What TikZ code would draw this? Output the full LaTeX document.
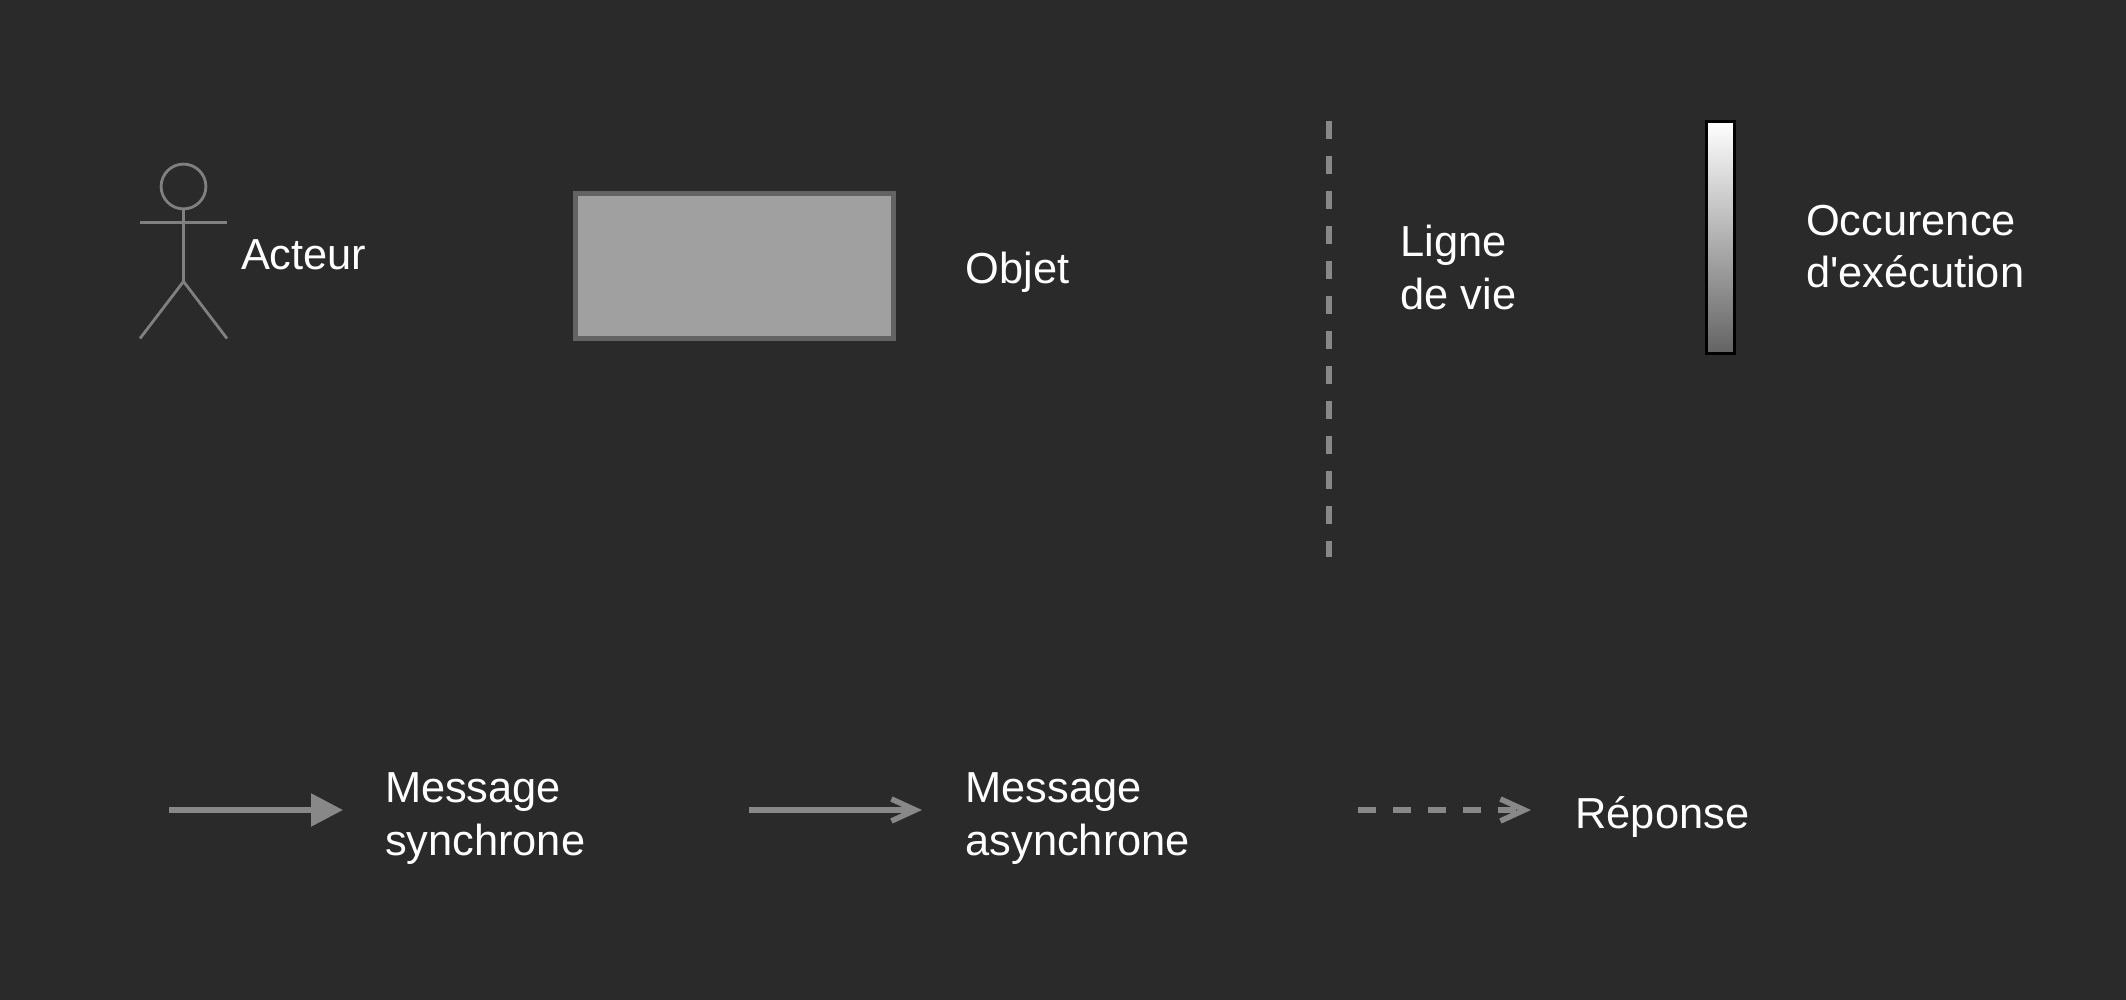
\documentclass[tikz,border=0pt]{standalone}
\usepackage{fontspec}
\newfontfamily\plainsans{Liberation Sans}
\usetikzlibrary{arrows.meta}
\definecolor{bgc}{HTML}{2A2A2A}
\definecolor{actc}{HTML}{808080}
\definecolor{msgc}{HTML}{888888}
\definecolor{objf}{HTML}{A0A0A0}
\definecolor{objs}{HTML}{636363}
\tikzset{
  x=.5pt,y=-.5pt,
  actorline/.style={draw=actc,line width=1.4pt},
  lbl/.style={text=white,inner sep=0pt,outer sep=0pt,anchor=base west,align=left,font=\plainsans\fontsize{21.7}{26.3}\selectfont},
  msg/.style={draw=msgc,line width=2.75pt},
  syncarrow/.style={msg,-{Triangle[length=16pt,width=16pt]}},
  openarrow/.style={msg,-{Straight Barb[length=12pt,width=11pt,line width=2.75pt]}},
  dashline/.style={dash pattern=on 9pt off 8.5pt},
}
\begin{document}
\begin{tikzpicture}
\fill[bgc] (0,0) rectangle (2126,1000);
\useasboundingbox (0,0) rectangle (2126,1000);
% actor
\node[circle,draw=actc,line width=1.4pt,minimum size=22.4pt,inner sep=0pt] (head) at (183.5,186.5) {};
\coordinate (hip) at (183.5,281.5);
\coordinate (shL) at (140,222.5);
\coordinate (shR) at (227,222.5);
\coordinate (ftL) at (140,338.5);
\coordinate (ftR) at (227,338.5);
\draw[actorline] (head.south) -- (hip);
\draw[actorline] (shL) -- (shR);
\draw[actorline] (ftL) -- (hip) -- (ftR);
\node[lbl] (tacteur) at (241,270) {Acteur};
% object
\node[draw=objs,fill=objf,line width=2.5pt,inner sep=0pt,minimum width=159pt,minimum height=72.5pt] (obj) at (734.5,266) {};
\node[lbl] (tobjet) at (965.5,284) {Objet};
% lifeline
\coordinate (llA) at (1329,121);
\coordinate (llB) at (1329,557);
\draw[msg,line width=3pt,dashline] (llA) -- (llB);
\node[lbl] (tligne) at (1400.5,309) {Ligne\\de vie};
% execution occurrence
\node[draw=black,line width=1.5pt,inner sep=0pt,minimum width=14.1pt,minimum height=116pt,top color=white,bottom color=objs] (bar) at (1720.4,237.5) {};
\node[lbl] (tocc) at (1806,288) {Occurence\\d'exécution};
% messages
\coordinate (s1) at (169,810);
\coordinate (s2) at (343,810);
\draw[syncarrow] (s1) -- (s2);
\node[lbl] (tsync) at (385,855) {Message\\synchrone};
\coordinate (a1) at (749,810);
\coordinate (a2) at (922,810);
\draw[openarrow] (a1) -- (a2);
\node[lbl] (tasync) at (965.5,855) {Message\\asynchrone};
\coordinate (r1) at (1358,810);
\coordinate (r2) at (1531,810);
\draw[openarrow,dashline] (r1) -- (r2);
\node[lbl] (trep) at (1575.5,828) {Réponse};
\end{tikzpicture}
\end{document}
